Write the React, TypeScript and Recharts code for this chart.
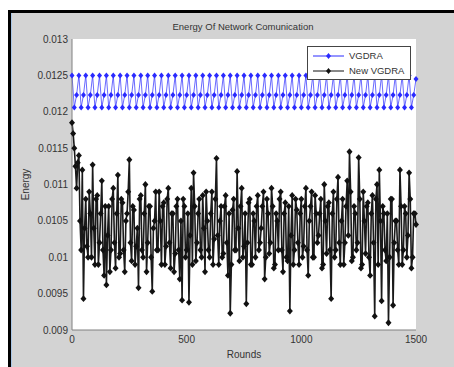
import React from "react";
import { LineChart, Line, XAxis, YAxis, CartesianGrid } from "recharts";

// New VGDRA is sampled every 5 rounds, VGDRA every 10 rounds
const rounds = Array.from({ length: 301 }, (_, i) => i * 5);

const vgdra = [
  0.0125, 0.01206, 0.01223, 0.0125, 0.01206, 0.01223, 0.0125, 0.01206, 0.01223, 0.0125, 0.01206, 0.01223, 0.0125, 0.01206, 0.01223,
  0.0125, 0.01206, 0.01223, 0.0125, 0.01206, 0.01223, 0.0125, 0.01206, 0.01223, 0.0125, 0.01206, 0.01223, 0.0125, 0.01206, 0.01223,
  0.0125, 0.01206, 0.01223, 0.0125, 0.01206, 0.01223, 0.0125, 0.01206, 0.01223, 0.0125, 0.01206, 0.01223, 0.0125, 0.01206, 0.01223,
  0.0125, 0.01206, 0.01223, 0.0125, 0.01206, 0.01223, 0.0125, 0.01206, 0.01223, 0.0125, 0.01206, 0.01223, 0.0125, 0.01206, 0.01223,
  0.0125, 0.01206, 0.01223, 0.0125, 0.01206, 0.01223, 0.0125, 0.01206, 0.01223, 0.0125, 0.01206, 0.01223, 0.0125, 0.01206, 0.01223,
  0.0125, 0.01206, 0.01223, 0.0125, 0.01206, 0.01223, 0.0125, 0.01206, 0.01223, 0.0125, 0.01206, 0.01223, 0.0125, 0.01206, 0.01223,
  0.0125, 0.01206, 0.01223, 0.0125, 0.01206, 0.01223, 0.0125, 0.01206, 0.01223, 0.0125, 0.01206, 0.01223, 0.0125, 0.01206, 0.01223,
  0.0125, 0.01206, 0.01223, 0.0125, 0.01206, 0.01223, 0.0125, 0.01206, 0.01223, 0.0125, 0.01206, 0.01223, 0.0125, 0.01206, 0.01223,
  0.0125, 0.01206, 0.01223, 0.0125, 0.01206, 0.01223, 0.0125, 0.01206, 0.01223, 0.0125, 0.01206, 0.01223, 0.0125, 0.01206, 0.01223,
  0.0125, 0.01206, 0.01223, 0.0125, 0.01206, 0.01223, 0.0125, 0.01206, 0.01223, 0.0125, 0.01206, 0.01223, 0.0125, 0.01206, 0.01223,
  0.01245,
];

const newVgdra = [
  0.01185, 0.0117, 0.0115, 0.01125, 0.01095, 0.0113, 0.0114, 0.0105, 0.0101, 0.0112, 0.00943, 0.0104, 0.0108, 0.01015, 0.01, 0.0109, 0.0106, 0.01, 0.01127, 0.0104,
  0.0099, 0.0108, 0.01085, 0.0099, 0.0102, 0.0106, 0.01105, 0.0101, 0.00975, 0.0107, 0.00962, 0.0103, 0.0107, 0.0098, 0.0101, 0.0108, 0.01095, 0.0102, 0.00985, 0.0106,
  0.01113, 0.01, 0.01005, 0.0108, 0.01075, 0.0101, 0.0098, 0.0105, 0.0106, 0.0109, 0.01134, 0.0102, 0.00995, 0.0107, 0.01065, 0.0099, 0.01015, 0.0104, 0.00958, 0.0108,
  0.01085, 0.0101, 0.01, 0.0106, 0.011, 0.0098, 0.0102, 0.0107, 0.0107, 0.01, 0.00953, 0.0104, 0.0105, 0.0109, 0.0101, 0.0101, 0.0109, 0.0105, 0.0099, 0.0107,
  0.01075, 0.0099, 0.01015, 0.0108, 0.01095, 0.0102, 0.00985, 0.0106, 0.0106, 0.0098, 0.01005, 0.0107, 0.0108, 0.0101, 0.0097, 0.0105, 0.00941, 0.0108, 0.0107, 0.01,
  0.0101, 0.0106, 0.00938, 0.0103, 0.01095, 0.0099, 0.01116, 0.0107, 0.00995, 0.0102, 0.0106, 0.0108, 0.0101, 0.01, 0.01085, 0.0104, 0.0098, 0.0109, 0.0105, 0.0101,
  0.01, 0.0106, 0.0109, 0.0099, 0.01025, 0.0108, 0.01136, 0.0103, 0.0099, 0.0105, 0.0107, 0.01, 0.01005, 0.0107, 0.01085, 0.0102, 0.00975, 0.0106, 0.00923, 0.0099,
  0.01065, 0.0108, 0.0101, 0.0101, 0.01118, 0.0104, 0.00995, 0.0107, 0.01095, 0.01, 0.01015, 0.0106, 0.00936, 0.0102, 0.01075, 0.0108, 0.0099, 0.0099, 0.0106, 0.0105,
  0.01, 0.0107, 0.01085, 0.0101, 0.0102, 0.0104, 0.0107, 0.0109, 0.0097, 0.01, 0.0108, 0.0106, 0.01005, 0.0102, 0.01095, 0.0107, 0.00985, 0.0099, 0.0106, 0.0105,
  0.0101, 0.0108, 0.0109, 0.0101, 0.0098, 0.0106, 0.01075, 0.01, 0.00995, 0.0107, 0.00926, 0.0103, 0.01085, 0.0099, 0.0101, 0.0108, 0.01065, 0.0102, 0.0099, 0.0106,
  0.0108, 0.01, 0.01015, 0.0107, 0.01095, 0.0101, 0.00975, 0.0105, 0.0107, 0.0109, 0.01, 0.01, 0.01085, 0.0106, 0.0102, 0.0103, 0.0106, 0.0108, 0.00985, 0.0099,
  0.011, 0.0105, 0.01005, 0.0107, 0.01075, 0.0101, 0.00943, 0.0106, 0.0109, 0.01, 0.0101, 0.0108, 0.0111, 0.0102, 0.0099, 0.0105, 0.0108, 0.0099, 0.0102, 0.0107,
  0.01105, 0.0103, 0.01145, 0.0109, 0.00995, 0.01, 0.0107, 0.0106, 0.0101, 0.0102, 0.01137, 0.0108, 0.00985, 0.0099, 0.0109, 0.0105, 0.01005, 0.0107, 0.01075, 0.01,
  0.00975, 0.0106, 0.01085, 0.0102, 0.00919, 0.0108, 0.011, 0.0099, 0.0112, 0.0105, 0.0094, 0.0107, 0.0106, 0.0101, 0.00995, 0.0106, 0.0091, 0.01, 0.0108, 0.0108,
  0.00934, 0.0102, 0.0105, 0.0105, 0.0101, 0.0099, 0.0112, 0.0107, 0.0099, 0.0101, 0.0107, 0.0106, 0.01, 0.0103, 0.01116, 0.0108, 0.00985, 0.01, 0.0106, 0.0106,
  0.01045,
];

const xTicks = [0, 500, 1000, 1500];
const yTicks = [0.009, 0.0095, 0.01, 0.0105, 0.011, 0.0115, 0.012, 0.0125, 0.013];
const seriesNames = ["VGDRA", "New VGDRA"];

const data = rounds.map((r, i) => ({
  round: r,
  vgdra: i % 2 === 0 ? vgdra[i / 2] : null,
  newVgdra: newVgdra[i],
}));

const font = "'Liberation Sans', Arial, sans-serif";
const BLUE = "#2a2aff";
const BLACK = "#111";

const Diamond = (props: any) => {
  const { cx, cy, fill, value, w = 2.5, h = 3 } = props;
  if (cx == null || cy == null || value == null) return null;
  return (
    <path
      d={`M${cx},${cy - h}L${cx + w},${cy}L${cx},${cy + h}L${cx - w},${cy}Z`}
      fill={fill}
    />
  );
};

const LegendBox = () => (
  <div
    style={{
      position: "absolute",
      left: 307,
      top: 46,
      width: 104,
      height: 34,
      background: "#fff",
      border: "1px solid #444",
      boxSizing: "border-box",
      fontFamily: font,
      fontSize: 9.5,
      color: "#333",
      paddingTop: 1,
    }}
  >
    {seriesNames.map((name, i) => {
      const color = i === 0 ? BLUE : BLACK;
      return (
        <div key={name} style={{ display: "flex", alignItems: "center", height: 15 }}>
          <svg width={36} height={10} style={{ marginLeft: 5 }}>
            <line x1={0} y1={5} x2={31} y2={5} stroke={color} strokeWidth={1} />
            <Diamond cx={15.5} cy={5} value={1} fill={color} />
          </svg>
          <span>{name}</span>
        </div>
      );
    })}
  </div>
);

export default function App() {
  return (
    <div style={{ position: "absolute", left: 0, top: 0, width: 454, height: 367, background: "#fff", overflow: "hidden" }}>
      <div
        style={{
          position: "absolute",
          left: 8,
          top: 10,
          width: 446,
          height: 357,
          background: "#d3d3d3",
          borderLeft: "3px solid #000",
          borderTop: "3px solid #000",
          boxSizing: "border-box",
          boxShadow: "inset 1px 0 0 #a9c6e6",
        }}
      />
      <div style={{ position: "absolute", left: 0, top: 0 }}>
        <LineChart width={454} height={367} data={data} margin={{ top: 39, right: 38, bottom: 17, left: 0 }}>
          <CartesianGrid horizontal={false} vertical={false} fill="#fff" />
          <XAxis
            dataKey="round"
            type="number"
            domain={[0, 1500]}
            ticks={xTicks}
            height={20}
            stroke="#808080"
            tickSize={0}
            tickMargin={6}
            tick={{ fill: "#333", fontSize: 10, fontFamily: font }}
          />
          <XAxis
            xAxisId="top"
            dataKey="round"
            type="number"
            orientation="top"
            domain={[0, 1500]}
            ticks={xTicks}
            height={0}
            mirror
            stroke="#808080"
            tickSize={3}
            tick={false}
          />
          <YAxis
            type="number"
            domain={[0.009, 0.013]}
            ticks={yTicks}
            width={72}
            stroke="#808080"
            tickSize={0}
            tickMargin={4}
            tick={{ fill: "#333", fontSize: 10, fontFamily: font }}
          />
          <YAxis
            yAxisId="right"
            orientation="right"
            type="number"
            domain={[0.009, 0.013]}
            ticks={yTicks}
            width={0}
            mirror
            stroke="#808080"
            tickSize={3}
            tick={false}
          />
          <Line
            dataKey="vgdra"
            name={seriesNames[0]}
            stroke={BLUE}
            strokeWidth={0.7}
            connectNulls
            dot={<Diamond fill={BLUE} />}
            isAnimationActive={false}
          />
          <Line
            dataKey="newVgdra"
            name={seriesNames[1]}
            stroke="#1a1a1a"
            strokeWidth={1.6}
            dot={<Diamond fill={BLACK} w={3} h={3.4} />}
            isAnimationActive={false}
          />
        </LineChart>
      </div>
      <LegendBox />
      <div
        style={{
          position: "absolute",
          left: 93,
          top: 21,
          width: 300,
          textAlign: "center",
          fontFamily: font,
          fontSize: 9.5,
          color: "#333",
        }}
      >
        Energy Of Network Comunication
      </div>
      <div
        style={{
          position: "absolute",
          left: 194,
          top: 349,
          width: 100,
          textAlign: "center",
          fontFamily: font,
          fontSize: 10,
          color: "#333",
        }}
      >
        Rounds
      </div>
      <div
        style={{
          position: "absolute",
          left: -25,
          top: 179,
          width: 100,
          textAlign: "center",
          transform: "rotate(-90deg)",
          fontFamily: font,
          fontSize: 10,
          color: "#333",
        }}
      >
        Energy
      </div>
    </div>
  );
}
